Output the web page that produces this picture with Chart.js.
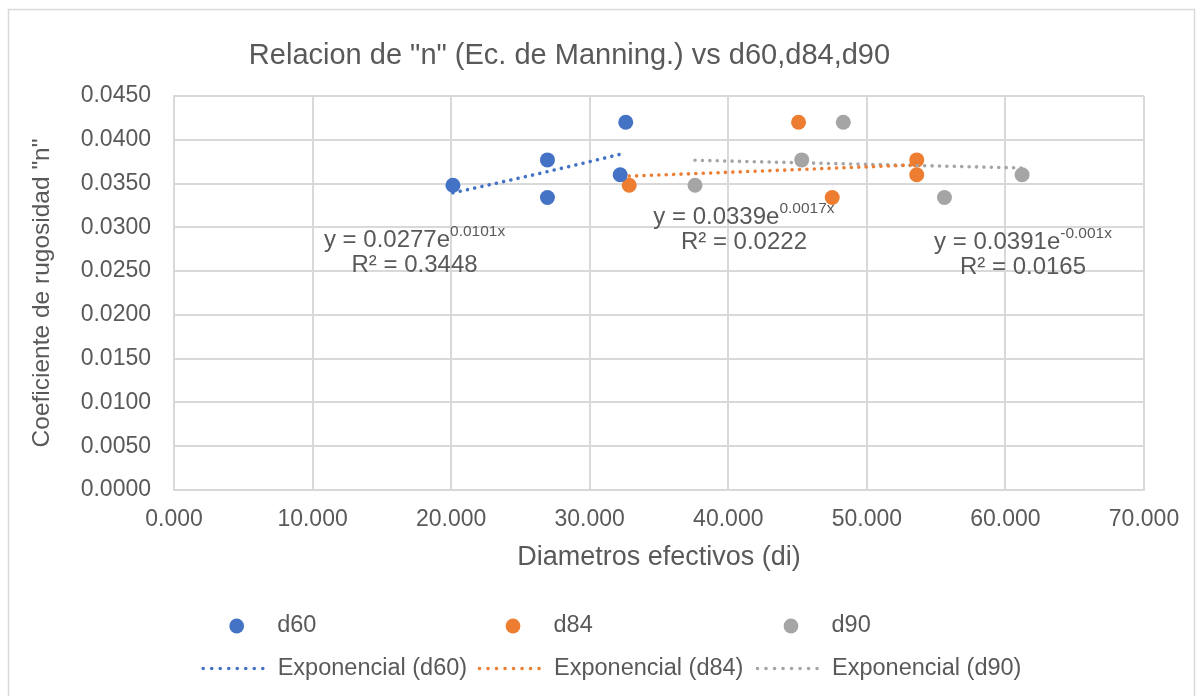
<!DOCTYPE html>
<html>
<head>
<meta charset="utf-8">
<script src="https://cdn.jsdelivr.net/npm/chart.js@4.4.1/dist/chart.umd.min.js"></script>
<style>
html,body{margin:0;padding:0;background:#ffffff;}
#wrap{width:1203px;height:696px;position:relative;overflow:hidden;}
</style>
</head>
<body>
<div id="wrap"><canvas id="c" width="1203" height="696"></canvas></div>
<script>
// ---- data ----
const seriesNames = ['d60', 'd84', 'd90'];
const d60X = [20.13, 26.95, 26.95, 32.60, 32.20];
const d60Y = [0.0348, 0.0377, 0.0334, 0.0420, 0.0360];
const d84X = [32.85, 45.07, 47.50, 53.60, 53.60];
const d84Y = [0.0348, 0.0420, 0.0334, 0.0377, 0.0360];
const d90X = [37.60, 45.30, 48.30, 55.60, 61.20];
const d90Y = [0.0348, 0.0377, 0.0420, 0.0334, 0.0360];
// exponential trendline coefficients as printed: y = a * e^(b x)
const trendA = [0.0277, 0.0339, 0.0391];
const trendB = [0.0101, 0.0017, -0.001];
const trendAText = ['0.0277', '0.0339', '0.0391'];
const trendBText = ['0.0101x', '0.0017x', '-0.001x'];
const trendR2Text = ['0.3448', '0.0222', '0.0165'];
const xTickValues = [0, 10, 20, 30, 40, 50, 60, 70];
const yTickValues = [0, 0.005, 0.010, 0.015, 0.020, 0.025, 0.030, 0.035, 0.040, 0.045];
const titleText = 'Relacion de "n" (Ec. de Manning.) vs d60,d84,d90';
const xTitleText = 'Diametros efectivos (di)';
const yTitleText = 'Coeficiente de rugosidad "n"';

// ---- styling ----
const FONT = '"Liberation Sans", Arial, sans-serif';
const TXT = '#595959';
const GRID = '#d9d9d9';
const colors = ['#4472C4', '#ED7D31', '#A5A5A5'];

const xs = [d60X, d84X, d90X];
const ys = [d60Y, d84Y, d90Y];

function pts(xArr, yArr) { return xArr.map((x, i) => ({x: x, y: yArr[i]})); }
function trendPts(k) {
  const lo = Math.min(...xs[k]), hi = Math.max(...xs[k]);
  const out = [];
  const n = 30;
  for (let i = 0; i <= n; i++) {
    const x = lo + (hi - lo) * i / n;
    out.push({x: x, y: trendA[k] * Math.exp(trendB[k] * x)});
  }
  return out;
}

const datasets = [];
for (let k = 0; k < 3; k++) {
  datasets.push({
    label: 'Exponencial (' + seriesNames[k] + ')',
    data: trendPts(k),
    showLine: true,
    borderColor: colors[k],
    borderWidth: 3.6,
    borderDash: [0.01, 7.4],
    borderCapStyle: 'round',
    pointRadius: 0,
    fill: false,
    order: 0
  });
}
for (let k = 0; k < 3; k++) {
  datasets.push({
    label: seriesNames[k],
    data: pts(xs[k], ys[k]),
    backgroundColor: colors[k],
    borderColor: colors[k],
    borderWidth: 0,
    pointRadius: 7.5,
    pointHoverRadius: 7.5,
    showLine: false,
    order: 1
  });
}

// equation label anchors (data units, centre of label, first line)
const eqAnchors = [{x: 17.36, y: 0.02878}, {x: 41.13, y: 0.03141}, {x: 61.27, y: 0.02855}];

const decorPlugin = {
  id: 'decor',
  beforeDraw(chart) {
    const ctx = chart.ctx;
    ctx.save();
    ctx.fillStyle = '#ffffff';
    ctx.fillRect(0, 0, chart.width, chart.height);
    ctx.strokeStyle = GRID;
    ctx.lineWidth = 1.5;
    ctx.strokeRect(8.5, 9.5, 1186, 740);
    ctx.restore();
  },
  afterDraw(chart) {
    const ctx = chart.ctx;
    const xS = chart.scales.x, yS = chart.scales.y;
    ctx.save();
    // title
    ctx.fillStyle = TXT;
    ctx.font = '29px ' + FONT;
    ctx.textAlign = 'center';
    ctx.textBaseline = 'alphabetic';
    ctx.fillText(titleText, 569.5, 63.5);

    // equations
    for (let k = 0; k < 3; k++) {
      const cx = xS.getPixelForValue(eqAnchors[k].x);
      const cy = yS.getPixelForValue(eqAnchors[k].y);
      const base1 = cy + 8.6;
      const main = 'y = ' + trendAText[k] + 'e';
      const sup = trendBText[k];
      ctx.font = '24px ' + FONT;
      const wMain = ctx.measureText(main).width;
      ctx.font = '15.5px ' + FONT;
      const wSup = ctx.measureText(sup).width;
      const start = cx - (wMain + wSup) / 2;
      ctx.textAlign = 'left';
      ctx.font = '24px ' + FONT;
      ctx.fillText(main, start, base1);
      ctx.font = '15.5px ' + FONT;
      ctx.fillText(sup, start + wMain, base1 - 10.4);
      ctx.font = '24px ' + FONT;
      ctx.textAlign = 'center';
      ctx.fillText('R\u00B2 = ' + trendR2Text[k], cx, base1 + 25);
    }

    // legend
    const itemX = [201.7, 478, 756];
    const row1 = 626, row2 = 668.5;
    ctx.font = '23.5px ' + FONT;
    ctx.textBaseline = 'middle';
    ctx.textAlign = 'left';
    for (let k = 0; k < 3; k++) {
      const sx = itemX[k];
      const ds = chart.data.datasets[3 + k];
      ctx.fillStyle = ds.backgroundColor;
      ctx.beginPath();
      ctx.arc(sx + 35, row1, 7.4, 0, Math.PI * 2);
      ctx.fill();
      ctx.fillStyle = TXT;
      ctx.fillText(ds.label, sx + 75.5, row1);

      const tl = chart.data.datasets[k];
      ctx.strokeStyle = tl.borderColor;
      ctx.lineWidth = 3.6;
      ctx.lineCap = 'round';
      ctx.setLineDash([0.01, 8.5]);
      ctx.beginPath();
      ctx.moveTo(sx + 1.5, row2);
      ctx.lineTo(sx + 69, row2);
      ctx.stroke();
      ctx.setLineDash([]);
      ctx.fillStyle = TXT;
      ctx.fillText(tl.label, sx + 76, row2);
    }
    ctx.restore();
  }
};

new Chart(document.getElementById('c'), {
  type: 'scatter',
  data: {datasets: datasets},
  options: {
    responsive: false,
    animation: false,
    devicePixelRatio: 1,
    layout: {padding: {top: 96, right: 59, bottom: 116, left: 0}},
    plugins: {
      legend: {display: false},
      title: {display: false},
      tooltip: {enabled: false}
    },
    scales: {
      x: {
        type: 'linear',
        min: 0, max: 70,
        afterBuildTicks(scale) { scale.ticks = xTickValues.map(v => ({value: v})); },
        afterFit(scale) { scale.height = 90; },
        grid: {color: GRID, lineWidth: 2, drawTicks: false},
        border: {color: GRID, width: 2},
        ticks: {
          color: TXT, padding: 16.2,
          font: {family: FONT, size: 23},
          callback: v => Number(v).toFixed(3),
          maxRotation: 0, autoSkip: false
        },
        title: {
          display: true, text: xTitleText, color: TXT,
          font: {family: FONT, size: 27},
          padding: {top: 0, bottom: 6.5}
        }
      },
      y: {
        type: 'linear',
        min: 0, max: 0.045,
        afterBuildTicks(scale) { scale.ticks = yTickValues.map(v => ({value: v})); },
        afterFit(scale) { scale.width = 174; },
        grid: {color: GRID, lineWidth: 2, drawTicks: false},
        border: {color: GRID, width: 2},
        ticks: {
          color: TXT, padding: 23,
          font: {family: FONT, size: 23},
          callback: v => Number(v).toFixed(4),
          autoSkip: false
        },
        title: {
          display: true, text: yTitleText, color: TXT,
          font: {family: FONT, size: 24.5},
          padding: {top: 27.3, bottom: 0}
        }
      }
    }
  },
  plugins: [decorPlugin]
});
</script>
</body>
</html>
